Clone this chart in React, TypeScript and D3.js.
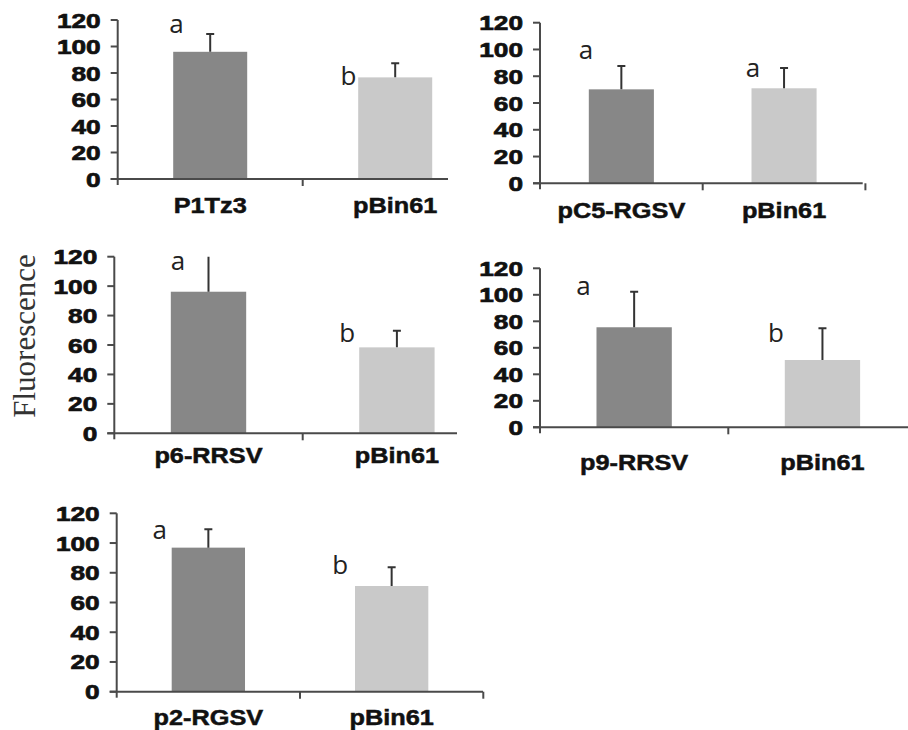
import React from "react";
import * as d3 from "d3";

// ---- data ----
const panelCategories: string[][] = [
  ["P1Tz3", "pBin61"],
  ["pC5-RGSV", "pBin61"],
  ["p6-RRSV", "pBin61"],
  ["p9-RRSV", "pBin61"],
  ["p2-RGSV", "pBin61"],
];
const panelMeans: number[][] = [
  [96, 76.7],
  [70.2, 71],
  [96.2, 58.4],
  [75.5, 50.8],
  [96.9, 71.1],
];
const panelErrors: number[][] = [
  [13.4, 10.6],
  [17.5, 15.1],
  [26, 11.3],
  [26.8, 23.9],
  [12.4, 12.6],
];
const panelLetters: string[][] = [
  ["a", "b"],
  ["a", "a"],
  ["a", "b"],
  ["a", "b"],
  ["a", "b"],
];
// letter baseline positions expressed in data units
const panelLetterValues: number[][] = [
  [110, 71],
  [92.9, 79.7],
  [111, 62.2],
  [99.8, 64.2],
  [102.6, 79],
];
const yTicks = [0, 20, 40, 60, 80, 100, 120];
const yAxisLabel = "Fluorescence";

// ---- layout ----
const panelLayout = [
  { axisX: 117.7, yTop: 20, yBot: 179, bandW: 185, axisEnd: 448, endTick: false, catY: 213, letterDx: [-4, -17.7] },
  { axisX: 540, yTop: 22.7, yBot: 183.3, bandW: 162.7, axisEnd: 862.7, endTick: true, catY: 218, letterDx: [-10, -5.7] },
  { axisX: 114.3, yTop: 256.7, yBot: 433.3, bandW: 188.4, axisEnd: 457, endTick: false, catY: 463, letterDx: [0, -20] },
  { axisX: 540, yTop: 268.3, yBot: 427.3, bandW: 188.3, axisEnd: 910, endTick: false, catY: 470, letterDx: [-20.3, -16.7] },
  { axisX: 116.7, yTop: 513.3, yBot: 691.7, bandW: 183.3, axisEnd: 483, endTick: true, catY: 725, letterDx: [-19.3, -22.7] },
];
const barColors = ["#878787", "#c9c9c9"];
const axisColor = "#4a4a4a";
const errColor = "#333333";

function Panel({ idx }: { idx: number }) {
  const L = panelLayout[idx];
  const cats = panelCategories[idx];
  const means = panelMeans[idx];
  const errs = panelErrors[idx];
  const letters = panelLetters[idx];
  const letterVals = panelLetterValues[idx];

  const y = d3.scaleLinear().domain([0, 120]).range([L.yBot, L.yTop]);
  const x = d3
    .scaleBand<string>()
    .domain(cats.map((c, i) => c + "_" + i))
    .range([L.axisX, L.axisX + L.bandW * cats.length])
    .paddingInner(0.6)
    .paddingOuter(0.3);
  const keys = x.domain();
  const clipId = `clip-${idx}`;
  const bandEdges = d3.range(cats.length + 1).map((i) => L.axisX + i * x.step());

  return (
    <g>
      <defs>
        <clipPath id={clipId}>
          <rect x={L.axisX} y={L.yTop} width={L.bandW * 2 + 10} height={L.yBot - L.yTop} />
        </clipPath>
      </defs>
      {keys.map((k, i) => (
        <rect
          key={k}
          x={x(k)}
          y={y(means[i])}
          width={x.bandwidth()}
          height={y(0) - y(means[i])}
          fill={barColors[i]}
        />
      ))}
      <g clipPath={`url(#${clipId})`}>
        {keys.map((k, i) => {
          const cx = (x(k) as number) + x.bandwidth() / 2;
          const top = y(means[i] + errs[i]);
          return (
            <g key={k} stroke={errColor} strokeWidth={2}>
              <line x1={cx} x2={cx} y1={y(means[i])} y2={top} />
              <line x1={cx - 4} x2={cx + 4} y1={top} y2={top} />
            </g>
          );
        })}
      </g>
      {keys.map((k, i) => (
        <text
          key={k}
          x={(x(k) as number) + L.letterDx[i]}
          y={y(letterVals[i])}
          fontFamily="'Open Sans', sans-serif"
          fontSize={26}
          fill="#222"
        >
          {letters[i]}
        </text>
      ))}
      <line x1={L.axisX} x2={L.axisX} y1={y(120)} y2={y(0) + 6} stroke={axisColor} strokeWidth={2} />
      {yTicks.map((t) => (
        <g key={t}>
          <line x1={L.axisX - 7} x2={L.axisX} y1={y(t)} y2={y(t)} stroke={axisColor} strokeWidth={2} />
          <text
            transform={`translate(${L.axisX - 17},${y(t) + 7.5}) scale(1.25,1)`}
            textAnchor="end"
            fontFamily="'Liberation Sans', Arial, sans-serif"
            fontWeight="bold"
            fontSize={21}
            fill="#111"
            stroke="#111"
            strokeWidth={0.7}
          >
            {t}
          </text>
        </g>
      ))}
      <line x1={L.axisX - 7} x2={L.axisEnd} y1={y(0)} y2={y(0)} stroke={axisColor} strokeWidth={2} />
      {bandEdges.slice(1).map((bx, i) =>
        i === bandEdges.length - 2 && !L.endTick ? null : (
          <line key={i} x1={bx} x2={bx} y1={y(0)} y2={y(0) + 7} stroke={axisColor} strokeWidth={2} />
        )
      )}
      {keys.map((k, i) => (
        <text
          key={k}
          transform={`translate(${(x(k) as number) + x.bandwidth() / 2},${L.catY}) scale(1.15,1)`}
          textAnchor="middle"
          fontFamily="'Liberation Sans', Arial, sans-serif"
          fontWeight="bold"
          fontSize={22}
          fill="#111"
          stroke="#111"
          strokeWidth={0.5}
        >
          {cats[i]}
        </text>
      ))}
    </g>
  );
}

export default function App() {
  return (
    <svg
      width={908}
      height={730}
      style={{ position: "absolute", left: 0, top: 0, background: "#fff" }}
    >
      <rect x={0} y={0} width={908} height={730} fill="#fff" />
      {panelLayout.map((_, i) => (
        <Panel key={i} idx={i} />
      ))}
      <text
        transform="translate(35,336) rotate(-90)"
        textAnchor="middle"
        fontFamily="'Liberation Serif', 'Times New Roman', serif"
        fontSize={31}
        fill="#333"
      >
        {yAxisLabel}
      </text>
    </svg>
  );
}
